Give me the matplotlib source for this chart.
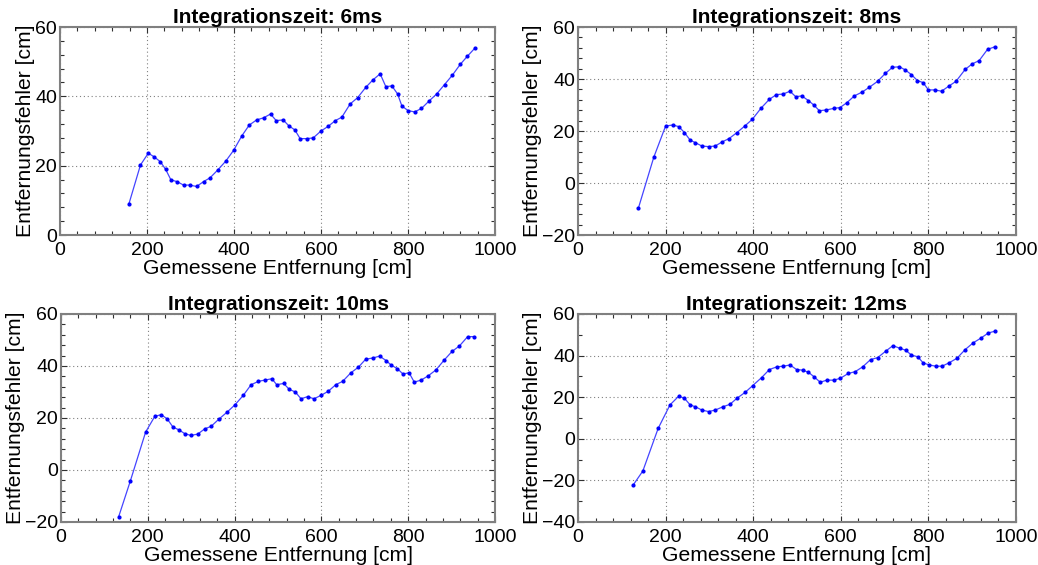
import matplotlib
matplotlib.use("Agg")
import matplotlib.pyplot as plt
from matplotlib.ticker import MultipleLocator

plt.rcParams['font.family'] = ['Liberation Sans', 'DejaVu Sans']

# Integration times of the four measurement series
titles = ["Integrationszeit: 6ms", "Integrationszeit: 8ms",
          "Integrationszeit: 10ms", "Integrationszeit: 12ms"]

dist_6ms = [158, 185, 203, 217, 231, 243, 255, 269, 284, 298, 314, 330, 345,
            363, 381, 399, 418, 435, 452, 468, 484, 497, 513, 526, 540, 552,
            567, 582, 600, 616, 633, 648, 667, 684, 703, 719, 736, 749, 763,
            776, 786, 800, 815, 831, 848, 866, 884, 902, 920, 936, 953]
err_6ms = [8.8, 20.2, 23.6, 22.5, 21.1, 18.9, 15.9, 15.4, 14.4, 14.4, 14.0,
           15.4, 16.5, 18.8, 21.3, 24.4, 28.6, 31.7, 33.2, 33.8, 34.9, 33.0,
           33.2, 31.5, 30.3, 27.8, 27.8, 28.0, 30.0, 31.3, 33.0, 34.0, 37.8,
           39.6, 42.6, 44.7, 46.5, 42.8, 43.0, 40.7, 37.2, 35.9, 35.5, 36.5,
           38.6, 40.7, 43.4, 46.1, 49.2, 51.5, 53.8]

dist_8ms = [138, 173, 200, 216, 230, 243, 256, 268, 283, 298, 313, 329, 345,
            363, 382, 398, 418, 437, 453, 468, 484, 497, 511, 526, 539, 551,
            567, 584, 598, 614, 631, 649, 665, 684, 702, 718, 734, 747, 761,
            775, 788, 800, 815, 830, 847, 863, 884, 900, 916, 935, 952]
err_8ms = [-9.6, 9.9, 21.9, 22.3, 21.7, 19.4, 16.5, 15.5, 14.2, 14.0, 14.2,
           15.8, 17.1, 19.4, 22.1, 24.5, 28.8, 32.2, 34.0, 34.2, 35.3, 33.2,
           33.5, 31.7, 29.9, 27.8, 28.1, 28.7, 29.0, 30.9, 33.5, 35.0, 36.8,
           39.1, 42.2, 44.5, 44.7, 43.5, 41.7, 39.4, 38.6, 35.8, 35.8, 35.3,
           37.3, 39.1, 43.7, 45.8, 47.1, 51.4, 52.4]

dist_10ms = [133, 160, 195, 216, 231, 245, 258, 271, 285, 299, 315, 331, 346,
             364, 383, 401, 420, 438, 455, 470, 486, 497, 513, 526, 540, 553,
             568, 583, 599, 616, 633, 649, 668, 685, 702, 719, 734, 749, 761,
             775, 788, 802, 814, 830, 846, 864, 883, 901, 918, 937, 952]
err_10ms = [-17.9, -4.1, 14.6, 20.6, 21.3, 19.6, 16.5, 15.5, 14.0, 13.3, 13.8,
            15.8, 16.8, 19.6, 22.3, 25.1, 28.7, 32.8, 34.1, 34.6, 35.1, 32.8,
            33.3, 31.0, 30.0, 27.4, 28.2, 27.4, 28.7, 30.3, 32.8, 34.1, 37.4,
            39.5, 42.6, 43.1, 43.8, 42.1, 40.3, 39.0, 36.9, 37.4, 33.8, 34.6,
            36.2, 38.5, 42.3, 45.6, 47.7, 51.3, 51.3]

dist_12ms = [126, 148, 183, 210, 230, 243, 256, 268, 283, 298, 313, 331, 347,
             363, 382, 399, 419, 437, 454, 469, 484, 499, 513, 526, 539, 553,
             568, 584, 599, 617, 633, 650, 668, 684, 703, 719, 735, 748, 761,
             776, 788, 802, 817, 831, 847, 865, 884, 902, 919, 937, 953]
err_12ms = [-22.2, -15.5, 5.0, 16.3, 20.5, 19.5, 16.3, 15.4, 13.8, 13.1, 13.8,
            15.4, 16.6, 19.5, 22.4, 25.6, 29.4, 33.3, 34.6, 34.9, 35.5, 33.3,
            33.0, 32.0, 29.8, 27.2, 28.2, 28.2, 29.1, 31.4, 32.3, 34.6, 38.1,
            39.0, 42.2, 44.8, 43.5, 42.6, 40.3, 39.4, 36.5, 35.5, 34.9, 34.9,
            36.5, 38.7, 42.9, 46.1, 48.3, 50.9, 51.8]

series = [(dist_6ms, err_6ms), (dist_8ms, err_8ms),
          (dist_10ms, err_10ms), (dist_12ms, err_12ms)]
y_limits = [(0, 60), (-20, 60), (-20, 60), (-40, 60)]
y_minor = [4, 4, 4, 10]

fig = plt.figure(figsize=(10.38, 5.65), dpi=100)
W, H = 1038, 565
# axes boxes in pixels: left, top, right, bottom
boxes = [(60, 27, 495, 235), (578, 27, 1016, 235),
         (61, 314, 495, 522), (578, 314, 1016, 522)]

for (x, y), title, ylim, ymin, (l, t, r, b) in zip(series, titles, y_limits,
                                                    y_minor, boxes):
    ax = fig.add_axes([l / W, 1 - b / H, (r - l) / W, (b - t) / H])
    ax.plot(x, y, color='#4444ff', lw=0.9, marker='o', ms=2.0,
            mfc='#0000ff', mec='#0000ff')
    ax.set_xlim(0, 1000)
    ax.set_ylim(*ylim)
    ax.xaxis.set_major_locator(MultipleLocator(200))
    ax.xaxis.set_minor_locator(MultipleLocator(40))
    ax.yaxis.set_major_locator(MultipleLocator(20))
    ax.yaxis.set_minor_locator(MultipleLocator(ymin))
    ax.grid(True, which='major', color='#808080', linestyle=(0, (1, 2.5)),
            lw=0.8)
    ax.tick_params(which='both', direction='in', top=True, right=True,
                   labelsize=14, color='#303030')
    ax.tick_params(axis='x', which='both', pad=5)
    ax.tick_params(axis='y', which='both', pad=2)
    ax.tick_params(which='major', length=4, width=0.8)
    ax.tick_params(which='minor', length=3, width=0.8)
    for sp in ax.spines.values():
        sp.set_color('#808080')
        sp.set_linewidth(1.5)
    ax.set_title(title, fontsize=15, fontweight='bold', pad=2)
    ax.set_xlabel("Gemessene Entfernung [cm]", fontsize=15.2, labelpad=0)
    ax.set_ylabel("Entfernungsfehler [cm]", fontsize=15.2, labelpad=0)

fig.savefig("out.png", dpi=100)
